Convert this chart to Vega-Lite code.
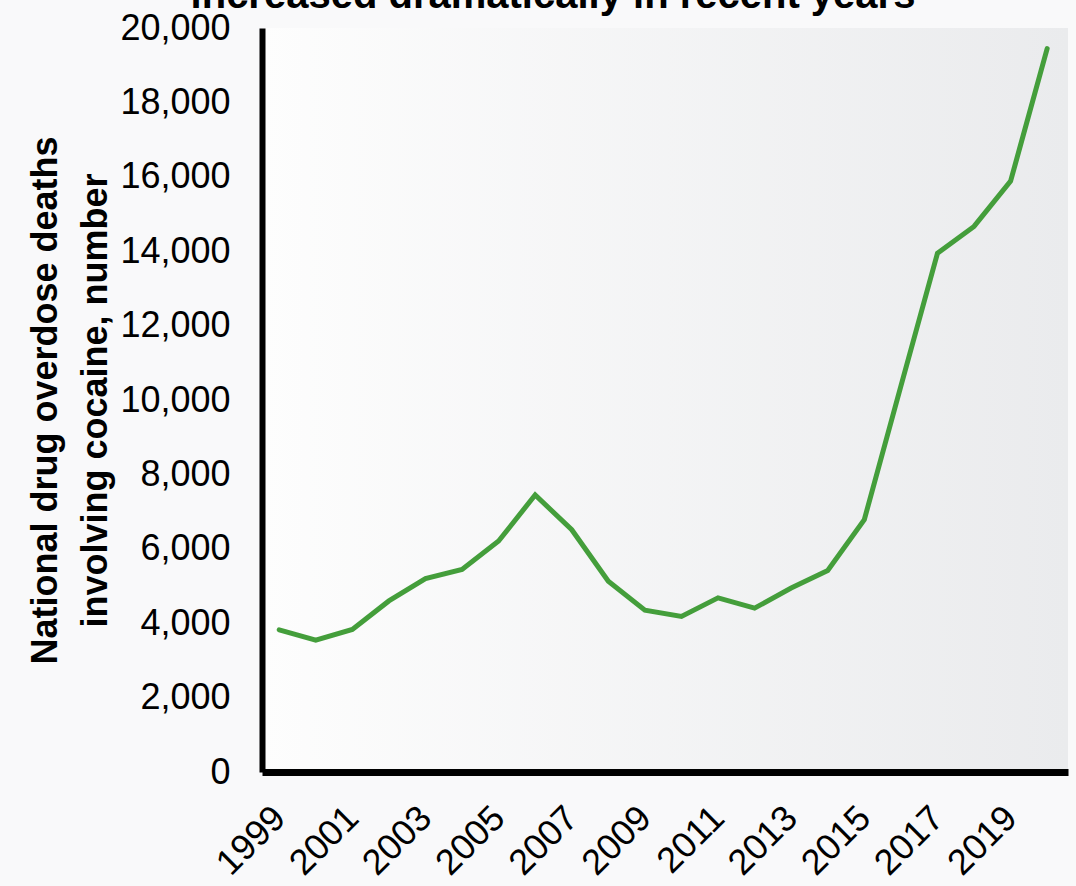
{
  "$schema": "https://vega.github.io/schema/vega-lite/v6.json",
  "autosize": {"type": "none"},
  "width": 806,
  "height": 744,
  "padding": {"left": 262, "top": 28, "right": 8, "bottom": 114},
  "background": "#f9f9fa",
  "title": {
    "text": "increased dramatically in recent years",
    "font": "Liberation Sans",
    "fontSize": 40,
    "fontWeight": "bold",
    "color": "#000000",
    "anchor": "middle",
    "frame": "group",
    "baseline": "bottom",
    "dx": -112,
    "offset": -46
  },
  "config": {
    "view": {
      "stroke": null,
      "fill": {"gradient": "linear", "x1": 0, "x2": 1, "y1": 0, "y2": 0,
        "stops": [{"offset": 0, "color": "#fdfdfd"}, {"offset": 1, "color": "#eaebed"}]}
    },
    "axis": {
      "labelFont": "Liberation Sans",
      "titleFont": "Liberation Sans",
      "labelColor": "#000000",
      "titleColor": "#000000",
      "domainColor": "#000000",
      "ticks": false,
      "grid": false
    }
  },
  "data": {
    "values": [
      {"year": 1999, "deaths": 3822},
      {"year": 2000, "deaths": 3544},
      {"year": 2001, "deaths": 3833},
      {"year": 2002, "deaths": 4599},
      {"year": 2003, "deaths": 5199},
      {"year": 2004, "deaths": 5443},
      {"year": 2005, "deaths": 6208},
      {"year": 2006, "deaths": 7448},
      {"year": 2007, "deaths": 6512},
      {"year": 2008, "deaths": 5129},
      {"year": 2009, "deaths": 4350},
      {"year": 2010, "deaths": 4183},
      {"year": 2011, "deaths": 4681},
      {"year": 2012, "deaths": 4404},
      {"year": 2013, "deaths": 4944},
      {"year": 2014, "deaths": 5415},
      {"year": 2015, "deaths": 6784},
      {"year": 2016, "deaths": 10375},
      {"year": 2017, "deaths": 13942},
      {"year": 2018, "deaths": 14666},
      {"year": 2019, "deaths": 15883},
      {"year": 2020, "deaths": 19447}
    ]
  },
  "mark": {"type": "line", "color": "#449e3b", "strokeWidth": 5, "strokeCap": "round", "strokeJoin": "miter"},
  "encoding": {
    "x": {
      "field": "year",
      "type": "quantitative",
      "scale": {"domain": [1998.53, 2020.57], "nice": false, "zero": false},
      "axis": {
        "title": null,
        "values": [1999, 2001, 2003, 2005, 2007, 2009, 2011, 2013, 2015, 2017, 2019],
        "format": "d",
        "labelAngle": -45,
        "labelAlign": "right",
        "labelBaseline": "middle",
        "labelFontSize": 36,
        "labelPadding": 40,
        "labelOverlap": false,
        "labelFlush": false,
        "domainWidth": 7
      }
    },
    "y": {
      "field": "deaths",
      "type": "quantitative",
      "scale": {"domain": [0, 20000], "nice": false},
      "axis": {
        "values": [0, 2000, 4000, 6000, 8000, 10000, 12000, 14000, 16000, 18000, 20000],
        "format": ",d",
        "labelFontSize": 36,
        "labelPadding": 32,
        "labelOverlap": false,
        "labelFlush": false,
        "domainWidth": 6,
        "title": ["National drug overdose deaths", "involving cocaine, number"],
        "titleFontSize": 36,
        "titleFontWeight": "bold",
        "titleLineHeight": 50,
        "titlePadding": 5
      }
    }
  }
}
